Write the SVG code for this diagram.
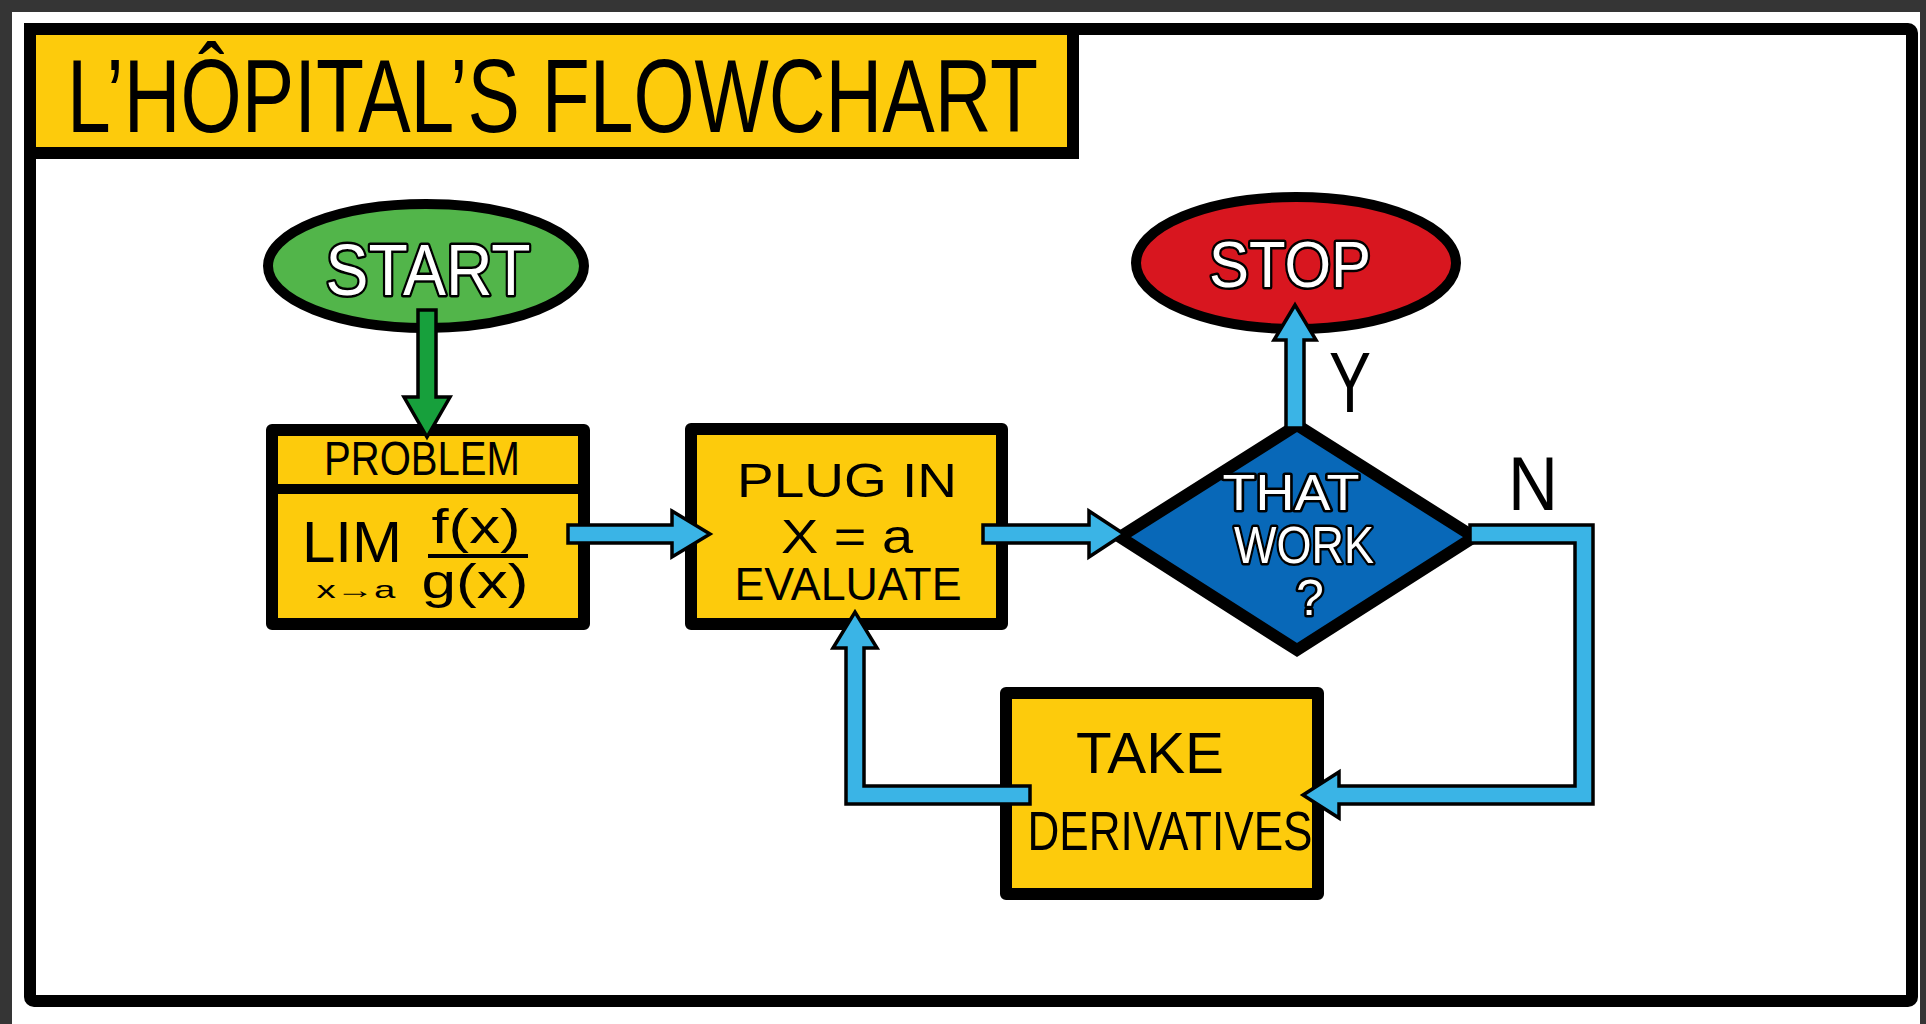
<svg xmlns="http://www.w3.org/2000/svg" width="1926" height="1024" viewBox="0 0 1926 1024">
<style>
.box{fill:#fdcb0c;stroke:#000;stroke-width:12;stroke-linejoin:round}
.lbl{font-family:"Liberation Sans",Arial,sans-serif;fill:#000;text-anchor:middle}
.wlbl{font-family:"Liberation Sans",Arial,sans-serif;fill:#fff;stroke:#000;stroke-width:5;paint-order:stroke;stroke-linejoin:round;text-anchor:middle}
.blue{fill:#3ab4e6;stroke:#000;stroke-width:3.5;stroke-linejoin:miter}
.green{fill:#17a03c;stroke:#000;stroke-width:3.5;stroke-linejoin:miter}
</style>
<rect x="0" y="0" width="1926" height="1024" fill="#353535"/>
<rect x="12" y="12" width="1908" height="1012" fill="#fff"/>
<rect x="30" y="29" width="1882" height="972" rx="4" fill="#fff" stroke="#000" stroke-width="12"/>

<g id="title">
<rect x="30" y="29" width="1043" height="124" fill="#fdcb0c" stroke="#000" stroke-width="12"/>
<text x="67" y="132" font-family="'Liberation Sans',Arial,sans-serif" font-size="104" textLength="971" lengthAdjust="spacingAndGlyphs" fill="#000">L’HÔPITAL’S FLOWCHART</text>
</g>

<g id="start">
<ellipse cx="426" cy="266" rx="158" ry="62" fill="#52b54a" stroke="#000" stroke-width="10"/>
<text class="wlbl" x="428" y="295" font-size="72" textLength="205" lengthAdjust="spacingAndGlyphs">START</text>
</g>

<g id="problem">
<rect class="box" x="272" y="430" width="312" height="194"/>
<line x1="272" y1="489" x2="584" y2="489" stroke="#000" stroke-width="10"/>
<text class="lbl" x="422" y="475" font-size="48" textLength="196" lengthAdjust="spacingAndGlyphs">PROBLEM</text>
<text class="lbl" x="352" y="562" font-size="58" textLength="100" lengthAdjust="spacingAndGlyphs">LIM</text>
<text class="lbl" x="356" y="598" font-size="24" textLength="79" lengthAdjust="spacingAndGlyphs">x→a</text>
<text class="lbl" x="476" y="543" font-size="48" textLength="89" lengthAdjust="spacingAndGlyphs">f(x)</text>
<line x1="428" y1="556" x2="528" y2="556" stroke="#000" stroke-width="4"/>
<text class="lbl" x="475" y="598" font-size="48" textLength="107" lengthAdjust="spacingAndGlyphs">g(x)</text>
</g>

<g id="plugin">
<rect class="box" x="691" y="429" width="311" height="195"/>
<text class="lbl" x="847" y="497" font-size="48" textLength="220" lengthAdjust="spacingAndGlyphs">PLUG IN</text>
<text class="lbl" x="847" y="553" font-size="48" textLength="132" lengthAdjust="spacingAndGlyphs">X = a</text>
<text class="lbl" x="848" y="600" font-size="46" textLength="227" lengthAdjust="spacingAndGlyphs">EVALUATE</text>
</g>

<g id="decision">
<polygon points="1297,425 1474,537 1297,650 1120,537" fill="#0868b8" stroke="#000" stroke-width="12" stroke-linejoin="miter"/>
<text class="wlbl" x="1291" y="510" font-size="50" textLength="137" lengthAdjust="spacingAndGlyphs">THAT</text>
<text class="wlbl" x="1304" y="563" font-size="52" textLength="140" lengthAdjust="spacingAndGlyphs">WORK</text>
<text class="wlbl" x="1310" y="615" font-size="50">?</text>
</g>

<g id="stop">
<ellipse cx="1296" cy="263" rx="160" ry="66" fill="#d8161f" stroke="#000" stroke-width="10"/>
<text class="wlbl" x="1290" y="287" font-size="64" textLength="162" lengthAdjust="spacingAndGlyphs">STOP</text>
</g>

<g id="derivatives">
<rect class="box" x="1006" y="693" width="312" height="201"/>
<text class="lbl" x="1150" y="773" font-size="58" textLength="148" lengthAdjust="spacingAndGlyphs">TAKE</text>
<text class="lbl" x="1170" y="850" font-size="56" textLength="285" lengthAdjust="spacingAndGlyphs">DERIVATIVES</text>
</g>

<g id="connectors">
<polygon class="green" points="418,310 418,397 404,397 427,437 450,397 436,397 436,310"/>
<polygon class="blue" points="568,525 672,525 672,511 710,534 672,557 672,543 568,543"/>
<polygon class="blue" points="983,525 1089,525 1089,511 1124,534 1089,557 1089,543 983,543"/>
<polygon class="blue" points="1286,428 1286,340 1274,340 1295,305 1316,340 1304,340 1304,428"/>
<polygon class="blue" points="1470,525 1593,525 1593,804 1339,804 1339,818 1303,795 1339,772 1339,786 1575,786 1575,543 1470,543"/>
<polygon class="blue" points="1030,786 864,786 864,648 877,648 855,612 833,648 846,648 846,804 1030,804"/>
<text class="lbl" x="1350" y="412" font-size="86" textLength="42" lengthAdjust="spacingAndGlyphs">Y</text>
<text class="lbl" x="1533" y="510" font-size="76" textLength="50" lengthAdjust="spacingAndGlyphs">N</text>
</g>
</svg>
